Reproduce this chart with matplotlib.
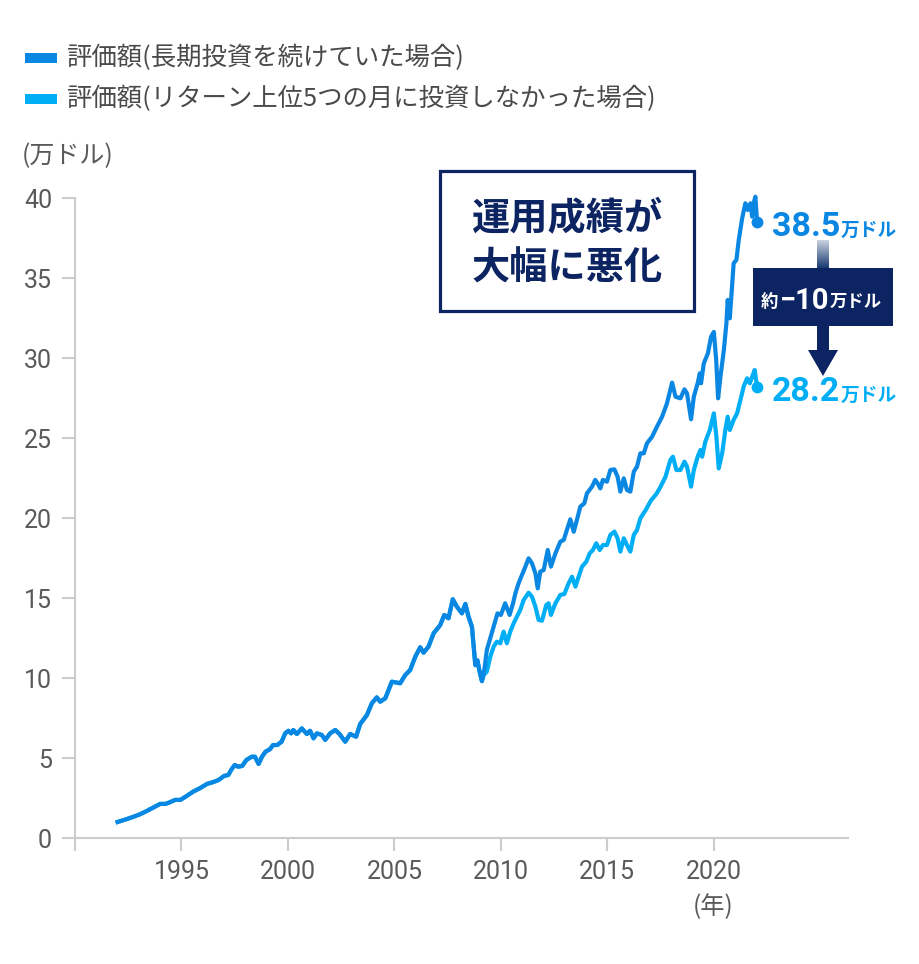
import numpy as np
import matplotlib
matplotlib.use("Agg")
import matplotlib.pyplot as plt
from matplotlib.patches import Rectangle, Polygon
from matplotlib.colors import LinearSegmentedColormap

plt.rcParams['font.family'] = ['Roboto', 'Noto Sans CJK JP', 'DejaVu Sans']

# --- data (in 万ドル) ---
common_yr = [1992.0, 1992.4, 1992.75, 1993.05, 1993.4, 1993.7, 1994.0, 1994.25, 1994.45, 1994.7,
             1994.95, 1995.25, 1995.55, 1995.85, 1996.2, 1996.5, 1996.75, 1997.0, 1997.2, 1997.35,
             1997.5, 1997.65, 1997.85, 1998.05, 1998.3, 1998.45, 1998.62, 1998.78, 1998.95, 1999.15,
             1999.3, 1999.5, 1999.7, 1999.87, 2000.02, 2000.15, 2000.25, 2000.42, 2000.65, 2000.89,
             2001.04, 2001.2, 2001.36, 2001.59, 2001.75, 2001.98, 2002.22, 2002.42, 2002.69, 2002.92,
             2003.2, 2003.39, 2003.71, 2003.94, 2004.17, 2004.33, 2004.57, 2004.88, 2005.11, 2005.27,
             2005.51, 2005.74, 2005.98, 2006.21, 2006.37, 2006.6, 2006.84, 2007.15, 2007.34, 2007.54,
             2007.74, 2007.93, 2008.17, 2008.33, 2008.48, 2008.64, 2008.8, 2008.9, 2009.0, 2009.11]
common_val = [1.0, 1.17, 1.33, 1.48, 1.71, 1.92, 2.13, 2.13, 2.23, 2.38,
              2.38, 2.63, 2.9, 3.1, 3.38, 3.5, 3.63, 3.88, 3.94, 4.29,
              4.56, 4.46, 4.5, 4.88, 5.08, 5.08, 4.63, 5.08, 5.4, 5.54,
              5.81, 5.81, 6.02, 6.54, 6.7, 6.54, 6.75, 6.5, 6.85, 6.5,
              6.7, 6.23, 6.54, 6.44, 6.13, 6.54, 6.75, 6.5, 6.02, 6.5,
              6.33, 7.12, 7.69, 8.42, 8.79, 8.52, 8.73, 9.77, 9.71, 9.67,
              10.19, 10.5, 11.33, 11.92, 11.58, 11.96, 12.79, 13.31, 13.94, 13.73,
              14.92, 14.46, 14.04, 14.63, 13.83, 13.2, 10.8, 11.1, 10.4, 9.8]

# 長期投資を続けていた場合 (after the 2009 low)
long_yr = [2009.22, 2009.34, 2009.5, 2009.66, 2009.84, 2010.0, 2010.2, 2010.41, 2010.57, 2010.68,
           2010.83, 2010.99, 2011.15, 2011.3, 2011.46, 2011.62, 2011.73, 2011.85, 2012.01, 2012.2,
           2012.35, 2012.56, 2012.79, 2012.95, 2013.1, 2013.26, 2013.42, 2013.57, 2013.73, 2013.92,
           2014.04, 2014.28, 2014.43, 2014.54, 2014.67, 2014.79, 2014.98, 2015.14, 2015.33, 2015.48,
           2015.61, 2015.77, 2015.92, 2016.08, 2016.24, 2016.39, 2016.55, 2016.71, 2016.86, 2017.1,
           2017.33, 2017.57, 2017.8, 2018.04, 2018.2, 2018.43, 2018.62, 2018.74, 2018.93, 2019.06,
           2019.24, 2019.34, 2019.4, 2019.53, 2019.72, 2019.87, 2020.0, 2020.11, 2020.2, 2020.31,
           2020.47, 2020.59, 2020.65, 2020.75, 2020.93, 2021.06, 2021.17, 2021.33, 2021.48, 2021.59,
           2021.72, 2021.8, 2021.87, 2021.95, 2022.03]
long_val = [10.5, 11.75, 12.48, 13.2, 14.04, 13.94, 14.67, 13.94, 14.67, 15.29,
            15.92, 16.44, 16.96, 17.48, 17.17, 16.54, 15.6, 16.65, 16.75, 18.0,
            16.96, 17.79, 18.52, 18.63, 19.25, 19.92, 19.14, 19.88, 20.71, 20.92,
            21.54, 21.96, 22.38, 22.17, 21.85, 22.38, 22.27, 23.0, 23.04, 22.58,
            21.65, 22.48, 21.75, 21.65, 22.89, 23.21, 24.04, 24.04, 24.67, 25.08,
            25.71, 26.33, 27.17, 28.46, 27.58, 27.48, 28.04, 27.79, 26.17, 27.58,
            28.42, 29.04, 28.42, 29.67, 30.29, 31.33, 31.63, 29.88, 27.48, 28.83,
            30.5, 32.17, 33.63, 32.48, 35.92, 36.13, 37.38, 38.73, 39.67, 39.25,
            39.67, 38.83, 39.67, 40.08, 38.5]

# リターン上位5つの月に投資しなかった場合
miss_yr = [2009.2, 2009.34, 2009.5, 2009.66, 2009.81, 2009.97, 2010.13, 2010.28, 2010.44, 2010.6,
           2010.75, 2010.91, 2011.07, 2011.3, 2011.46, 2011.62, 2011.77, 2011.93, 2012.13, 2012.24,
           2012.35, 2012.56, 2012.79, 2012.98, 2013.18, 2013.34, 2013.5, 2013.65, 2013.81, 2014.01,
           2014.17, 2014.32, 2014.48, 2014.64, 2014.79, 2014.98, 2015.14, 2015.33, 2015.48, 2015.61,
           2015.77, 2015.92, 2016.08, 2016.24, 2016.39, 2016.55, 2016.8, 2017.05, 2017.3, 2017.5,
           2017.73, 2017.96, 2018.08, 2018.24, 2018.43, 2018.62, 2018.74, 2018.93, 2019.06, 2019.24,
           2019.37, 2019.45, 2019.6, 2019.81, 2020.0, 2020.12, 2020.23, 2020.39, 2020.54, 2020.65,
           2020.75, 2020.93, 2021.09, 2021.25, 2021.4, 2021.56, 2021.69, 2021.8, 2021.92, 2022.03]
miss_val = [10.2, 10.4, 11.33, 11.96, 12.27, 12.17, 12.9, 12.17, 12.9, 13.42,
            13.83, 14.25, 14.88, 15.33, 15.08, 14.46, 13.63, 13.58, 14.56, 14.67,
            13.94, 14.67, 15.19, 15.25, 15.92, 16.33, 15.71, 16.33, 16.96, 17.27,
            17.79, 18.0, 18.42, 18.0, 18.31, 18.31, 18.94, 19.15, 18.73, 17.9,
            18.73, 18.31, 17.9, 18.94, 19.25, 19.98, 20.5, 21.1, 21.5, 21.96,
            22.58, 23.63, 23.83, 23.0, 23.0, 23.52, 23.21, 21.96, 23.0, 23.83,
            24.25, 23.83, 24.77, 25.5, 26.54, 25.08, 23.1, 24.04, 25.5, 26.33,
            25.5, 26.13, 26.54, 27.38, 28.21, 28.73, 28.42, 28.83, 29.25, 28.2]

legend_labels = ['評価額(長期投資を続けていた場合)', '評価額(リターン上位5つの月に投資しなかった場合)']
end_labels = ['38.5', '28.2']
x_ticks = [1990, 1995, 2000, 2005, 2010, 2015, 2020]
x_ticklabels = ['', '1995', '2000', '2005', '2010', '2015', '2020']
y_ticks = [0, 5, 10, 15, 20, 25, 30, 35, 40]

DARK = '#0A87E2'
LIGHT = '#00AEF5'
NAVY = '#0C2461'
GREY = '#5A5A5A'
AXC = '#CCCCCC'
JP = ['Noto Sans CJK JP', 'DejaVu Sans']

W, H = 920, 964
fig = plt.figure(figsize=(W / 100, H / 100), dpi=100)
ax = fig.add_axes([75 / W, 1 - 838 / H, 773 / W, 640 / H])

yr_a = common_yr + long_yr
val_a = common_val + long_val
yr_b = common_yr + miss_yr
val_b = common_val + miss_val

ax.plot(yr_b, val_b, color=LIGHT, lw=3, solid_joinstyle='round', clip_on=False, zorder=3)
ax.plot(yr_a, val_a, color=DARK, lw=3, solid_joinstyle='round', clip_on=False, zorder=4)
ax.plot(yr_a[-1], val_a[-1], 'o', color=DARK, ms=7.5, clip_on=False, zorder=5)
ax.plot(yr_b[-1], val_b[-1], 'o', color=LIGHT, ms=7.5, clip_on=False, zorder=5)

ax.set_xlim(1990, 2026.3)
ax.set_ylim(0, 40)
ax.set_xticks(x_ticks)
ax.set_xticklabels(x_ticklabels)
ax.set_yticks(y_ticks)
for s in ['top', 'right']:
    ax.spines[s].set_visible(False)
for s in ['left', 'bottom']:
    ax.spines[s].set_color(AXC)
    ax.spines[s].set_linewidth(1.5)
ax.tick_params(axis='both', direction='out', length=9.5, width=1.5, color=AXC,
               labelcolor=GREY, labelsize=18)
ax.tick_params(axis='y', pad=7)
ax.tick_params(axis='x', pad=6)

# end-value labels, placed relative to the last points
for yv, lab, col in [(val_a[-1], end_labels[0], DARK), (val_b[-1], end_labels[1], LIGHT)]:
    ax.annotate(lab, xy=(yr_a[-1], yv), xytext=(15, -14), textcoords='offset pixels',
                fontsize=24.5, fontweight='bold', color=col, ha='left', va='baseline',
                family=['Roboto', 'DejaVu Sans'], annotation_clip=False)
    ax.annotate('万ドル', xy=(yr_a[-1], yv), xytext=(84, -14), textcoords='offset pixels',
                fontsize=13.5, fontweight='bold', color=col, ha='left', va='baseline',
                family=JP, annotation_clip=False)

# overlay in pixel coordinates for legend and callouts
ov = fig.add_axes([0, 0, 1, 1], zorder=10)
ov.patch.set_alpha(0)

grad = np.linspace(0, 1, 60).reshape(-1, 1)
cmap = LinearSegmentedColormap.from_list('g', ['#C9D2E0', '#1B3C72'])
ov.imshow(grad, extent=[817, 829, 268, 240], aspect='auto', cmap=cmap, origin='upper')
ov.set_xlim(0, W)
ov.set_ylim(H, 0)
ov.axis('off')

# legend
for i, (lab, col) in enumerate(zip(legend_labels, [DARK, LIGHT])):
    yc = 58 + i * 41
    ov.add_patch(Rectangle((25, yc - 5), 32, 10, color=col, lw=0))
    ov.text(66, yc, lab, fontsize=18.3, color='#4A4A4A', va='center', ha='left', family=JP)

ov.text(22, 156, '(万ドル)', fontsize=18, color=GREY, va='center', ha='left', family=JP)
ov.text(713, 907, '(年)', fontsize=17.5, color=GREY, va='center', ha='center', family=JP)

# message box
ov.add_patch(Rectangle((440, 171), 254, 140, facecolor='white', edgecolor=NAVY, lw=2.3))
ov.text(567, 218, '運用成績が', fontsize=27.5, fontweight='bold', color=NAVY,
        ha='center', va='center', family=JP)
ov.text(567, 268, '大幅に悪化', fontsize=27.5, fontweight='bold', color=NAVY,
        ha='center', va='center', family=JP)

# difference arrow
ov.add_patch(Rectangle((753, 268), 140, 58, color=NAVY, lw=0))
ov.add_patch(Rectangle((817, 325), 12, 26, color=NAVY, lw=0))
ov.add_patch(Polygon([[808, 350], [838, 350], [823, 376]], closed=True, color=NAVY, lw=0))
ov.text(769, 307, '約', fontsize=12.5, fontweight='bold', color='white',
        ha='center', va='baseline', family=JP)
ov.text(829, 309, '−10', fontsize=21, fontweight='bold', color='white',
        ha='right', va='baseline', family=['Roboto', 'DejaVu Sans'])
ov.text(830, 307, '万ドル', fontsize=12.5, fontweight='bold', color='white',
        ha='left', va='baseline', family=JP)

fig.savefig('out.png', dpi=100)
